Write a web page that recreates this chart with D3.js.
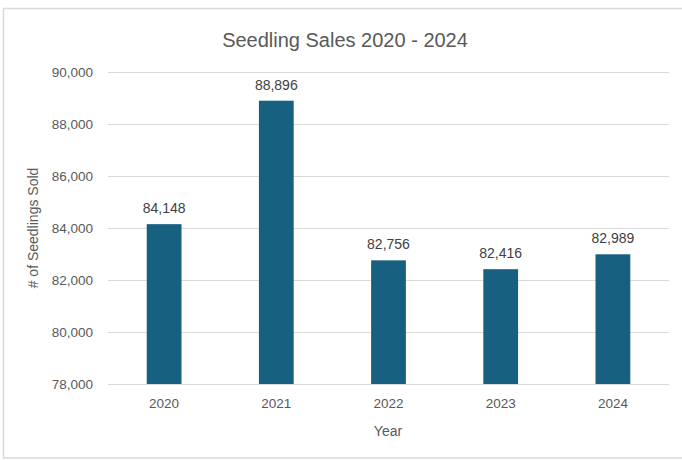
<!DOCTYPE html>
<html><head><meta charset="utf-8">
<script src="https://cdn.jsdelivr.net/npm/d3@7"></script>
<style>body{margin:0;background:#fff}svg{display:block}</style>
</head><body><svg id="c" width="682" height="460"></svg>
<script>
const years = ["2020","2021","2022","2023","2024"];
const sales = [84148, 88896, 82756, 82416, 82989];
const yTicks = [78000, 80000, 82000, 84000, 86000, 88000, 90000];
const chartTitle = "Seedling Sales 2020 - 2024";
const xTitle = "Year";
const yTitle = "# of Seedlings Sold";

(function(){
const svg = d3.select("#c");
const font = "'Liberation Sans', Arial, sans-serif";
const grey = "#595959";

// chart border
svg.append("rect").attr("x",3.5).attr("y",8.5).attr("width",690).attr("height",449.5)
  .attr("fill","#fff").attr("stroke","#d9d9d9").attr("stroke-width",1.5);

const pL = 108, pR = 669, pT = 72, pB = 384;
const x = d3.scaleBand().domain(years).range([pL,pR]).paddingInner(0.69).paddingOuter(0.345);
const y = d3.scaleLinear().domain([78000,90000]).range([pB,pT]);

// gridlines
svg.append("g").selectAll("line").data(yTicks).join("line")
  .attr("x1",pL).attr("x2",pR).attr("y1",d=>Math.round(y(d))+0.5).attr("y2",d=>Math.round(y(d))+0.5)
  .attr("stroke","#d9d9d9").attr("stroke-width",1);

// y axis labels
const yAxis = d3.axisLeft(y).tickValues(yTicks).tickFormat(d3.format(",")).tickSize(0).tickPadding(0);
const gy = svg.append("g").attr("transform",`translate(${pL-15},0)`).call(yAxis);
gy.select(".domain").remove();
gy.selectAll("text").attr("font-family",font).attr("font-size",13.5).attr("fill",grey);

// x axis labels
const xAxis = d3.axisBottom(x).tickSize(0).tickPadding(0);
const gx = svg.append("g").attr("transform",`translate(0,${pB+14})`).call(xAxis);
gx.select(".domain").remove();
gx.selectAll("text").attr("font-family",font).attr("font-size",13.5).attr("fill",grey);

// bars
svg.append("g").selectAll("rect").data(years).join("rect")
  .attr("x",d=>x(d)).attr("width",x.bandwidth())
  .attr("y",(d,i)=>y(sales[i])).attr("height",(d,i)=>y(78000)-y(sales[i]))
  .attr("fill","#18607f");

// data labels
svg.append("g").selectAll("text").data(years).join("text")
  .attr("x",d=>x(d)+x.bandwidth()/2).attr("y",(d,i)=>y(sales[i])-11)
  .attr("text-anchor","middle").attr("font-family",font).attr("font-size",14).attr("fill","#404040")
  .text((d,i)=>d3.format(",")(sales[i]));

// titles
svg.append("text").attr("x",345).attr("y",47).attr("text-anchor","middle")
  .attr("font-family",font).attr("font-size",20).attr("fill",grey).text(chartTitle);
svg.append("text").attr("x",388).attr("y",436).attr("text-anchor","middle")
  .attr("font-family",font).attr("font-size",14).attr("fill",grey).text(xTitle);
svg.append("text").attr("transform",`translate(38,${(pT+pB)/2}) rotate(-90)`).attr("text-anchor","middle")
  .attr("font-family",font).attr("font-size",14).attr("fill",grey).text(yTitle);
})();
</script></body></html>
